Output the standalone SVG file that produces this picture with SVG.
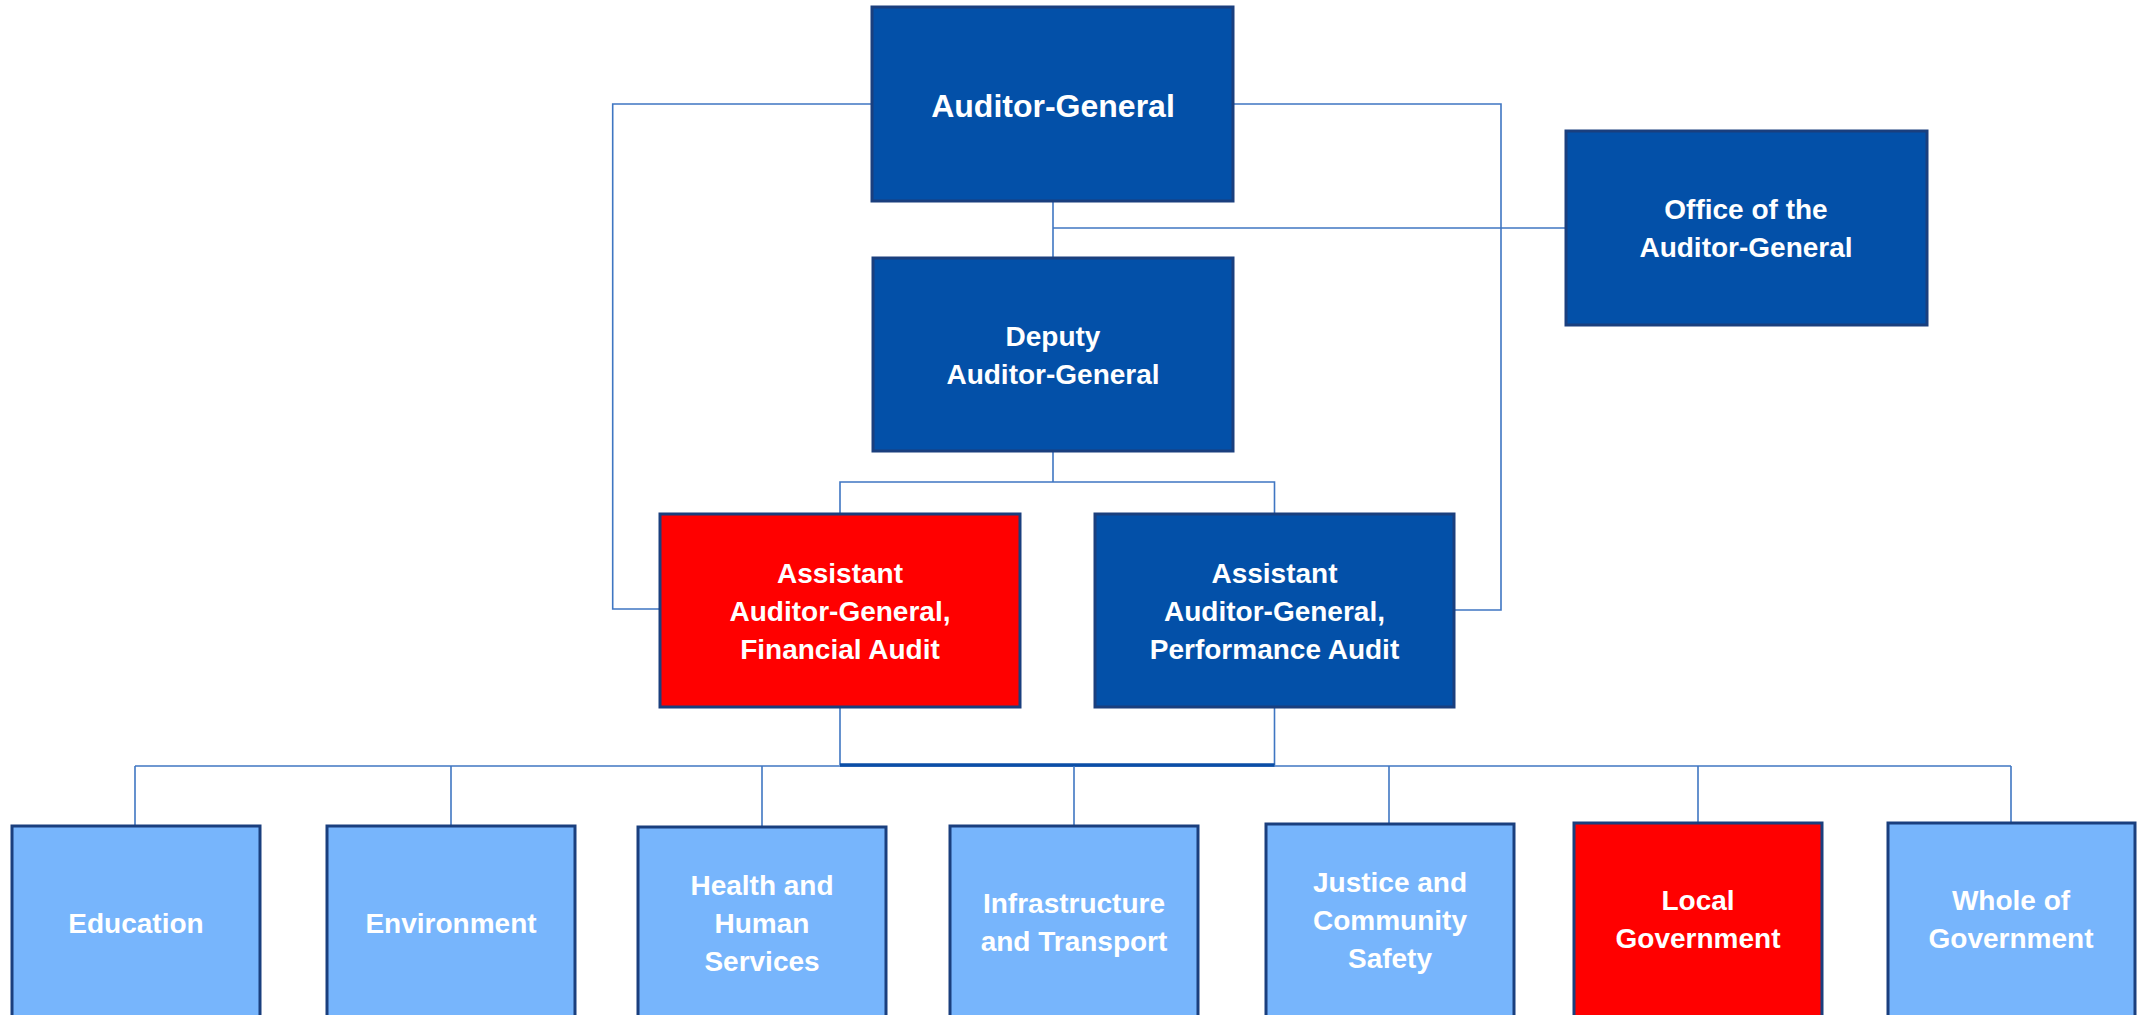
<svg xmlns="http://www.w3.org/2000/svg" width="2143" height="1015" viewBox="0 0 2143 1015">
<style>
.box{stroke:#1a3f7e;stroke-width:3}
.dark{fill:#0350a8}
.red{fill:#ff0000}
.light{fill:#77b5fc}
.t{font-family:"Liberation Sans",Arial,sans-serif;font-weight:bold;font-size:28px;fill:#ffffff;text-anchor:middle}
.big{font-size:32px}
.ln{fill:none;stroke:#3f76c2;stroke-width:1.6}
.thick{fill:none;stroke:#0b4ea6;stroke-width:3.5}
</style>
<rect width="2143" height="1015" fill="#ffffff"/>
<g id="connectors">
<path class="ln" d="M872,104 H612.7 V609 H660"/>
<path class="ln" d="M1233,104 H1501 V610 H1454"/>
<path class="ln" d="M1053,201 V258"/>
<path class="ln" d="M1053,228 H1566"/>
<path class="ln" d="M1053,451 V482"/>
<path class="ln" d="M840,514 V482 H1274.5 V514"/>
<path class="ln" d="M840,707 V765"/>
<path class="ln" d="M1274.5,707 V765"/>
<path class="ln" d="M135,766 H2011"/>
<path class="thick" d="M840,765 H1274.5"/>
<path class="ln" d="M135,766 V826"/>
<path class="ln" d="M451,766 V826"/>
<path class="ln" d="M762,766 V827"/>
<path class="ln" d="M1074,766 V826"/>
<path class="ln" d="M1389,766 V824"/>
<path class="ln" d="M1698,766 V823"/>
<path class="ln" d="M2011,766 V823"/>
</g>
<g id="auditor-general">
<rect class="box dark" x="872" y="7" width="361" height="194"/>
<text class="t big" x="1053" y="117">Auditor-General</text>
</g>
<g id="office">
<rect class="box dark" x="1566" y="131" width="361" height="194"/>
<text class="t" x="1746" y="219">Office of the</text>
<text class="t" x="1746" y="257">Auditor-General</text>
</g>
<g id="deputy">
<rect class="box dark" x="873" y="258" width="360" height="193"/>
<text class="t" x="1053" y="346">Deputy</text>
<text class="t" x="1053" y="384">Auditor-General</text>
</g>
<g id="financial-audit">
<rect class="box red" x="660" y="514" width="360" height="193"/>
<text class="t" x="840" y="583">Assistant</text>
<text class="t" x="840" y="621">Auditor-General,</text>
<text class="t" x="840" y="659">Financial Audit</text>
</g>
<g id="performance-audit">
<rect class="box dark" x="1095" y="514" width="359" height="193"/>
<text class="t" x="1274.5" y="583">Assistant</text>
<text class="t" x="1274.5" y="621">Auditor-General,</text>
<text class="t" x="1274.5" y="659">Performance Audit</text>
</g>
<g id="education">
<rect class="box light" x="12" y="826" width="248" height="200"/>
<text class="t" x="136" y="933">Education</text>
</g>
<g id="environment">
<rect class="box light" x="327" y="826" width="248" height="200"/>
<text class="t" x="451" y="933">Environment</text>
</g>
<g id="health">
<rect class="box light" x="638" y="827" width="248" height="200"/>
<text class="t" x="762" y="895">Health and</text>
<text class="t" x="762" y="933">Human</text>
<text class="t" x="762" y="971">Services</text>
</g>
<g id="infrastructure">
<rect class="box light" x="950" y="826" width="248" height="200"/>
<text class="t" x="1074" y="913">Infrastructure</text>
<text class="t" x="1074" y="951">and Transport</text>
</g>
<g id="justice">
<rect class="box light" x="1266" y="824" width="248" height="200"/>
<text class="t" x="1390" y="892">Justice and</text>
<text class="t" x="1390" y="930">Community</text>
<text class="t" x="1390" y="968">Safety</text>
</g>
<g id="local-government">
<rect class="box red" x="1574" y="823" width="248" height="200"/>
<text class="t" x="1698" y="910">Local</text>
<text class="t" x="1698" y="948">Government</text>
</g>
<g id="whole-of-government">
<rect class="box light" x="1888" y="823" width="247" height="200"/>
<text class="t" x="2011" y="910">Whole of</text>
<text class="t" x="2011" y="948">Government</text>
</g>
</svg>
